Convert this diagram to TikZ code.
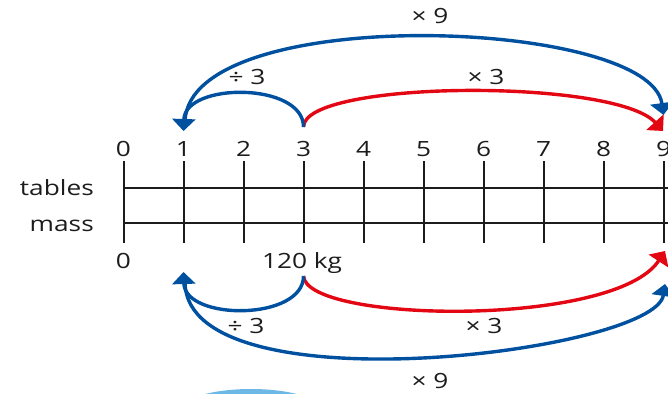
\documentclass[tikz,border=0pt]{standalone}
\usepackage{fontspec}
\setmainfont{Open Sans}[FakeStretch=1.25]
\usetikzlibrary{arrows.meta}
\definecolor{arcblue}{RGB}{0,80,160}
\definecolor{arcred}{RGB}{227,6,19}
\definecolor{inkgrey}{RGB}{28,28,28}
\definecolor{skyblue}{RGB}{108,184,230}
\tikzset{
	axis/.style={line width=2pt, draw=inkgrey},
	hop/.style={line width=3.4pt, -{Triangle[width=23pt,length=12pt]}},
	num/.style={text=inkgrey, inner sep=0pt},
}
\begin{document}
\begin{tikzpicture}[x=1pt, y=-1pt, font=\fontsize{21}{25}\selectfont]
	\useasboundingbox (0,0) rectangle (668,393);
	\fill[skyblue] (251,409) ellipse [x radius=69pt, y radius=20pt];
	% double number line
	\draw[axis] (123.5,188) -- (670,188);
	\draw[axis] (123.5,222.5) -- (670,222.5);
	\foreach \i in {0,...,9} {
		\draw[axis] (123.5+60*\i,161) -- (123.5+60*\i,243);
		\node[num, anchor=base] (n\i) at (123.5+60*\i,156.5) {\i};
	}
	\node[num, anchor=base east] (tables) at (94,195) {tables};
	\node[num, anchor=base east] (mass) at (94,231) {mass};
	\node[num, anchor=base] (m0) at (123.5,268) {0};
	\node[num, anchor=base] (m3) at (302,268) {120 kg};
	% ends of the jumps
	\coordinate (up3) at (303.5,127);
	\coordinate (up1) at (183.5,131);
	\coordinate (up1b) at (185,121);
	\coordinate (up9a) at (663.5,115);
	\coordinate (up9b) at (663,131);
	\coordinate (lo3) at (303.5,276);
	\coordinate (lo1) at (183.5,272);
	\coordinate (lo1b) at (185,283);
	\coordinate (lo9a) at (665,251);
	\coordinate (lo9b) at (665,284);
	% jumps above
	\draw[hop, arcblue] (up1b) .. controls (190,2) and (650,18) .. (up9a);
	\draw[hop, arcred] (up3) .. controls (303.5,80) and (615,78) .. (up9b);
	\draw[hop, arcblue] (up3) .. controls (303.5,82) and (185,82) .. (up1);
	\node[num] (divA) at (247,77) {÷ 3};
	\node[num] (timA) at (486,77) {× 3};
	\node[num] (nineA) at (430,16) {× 9};
	% jumps below
	\draw[hop, arcblue] (lo1b) .. controls (188,410) and (655,352) .. (lo9b);
	\draw[hop, arcred] (lo3) .. controls (306,323) and (615,328) .. (lo9a);
	\draw[hop, arcblue] (lo3) .. controls (303.5,321) and (185,321) .. (lo1);
	\node[num] (divB) at (246,326) {÷ 3};
	\node[num] (timB) at (484,326) {× 3};
	\node[num] (nineB) at (430,381) {× 9};
\end{tikzpicture}
\end{document}
